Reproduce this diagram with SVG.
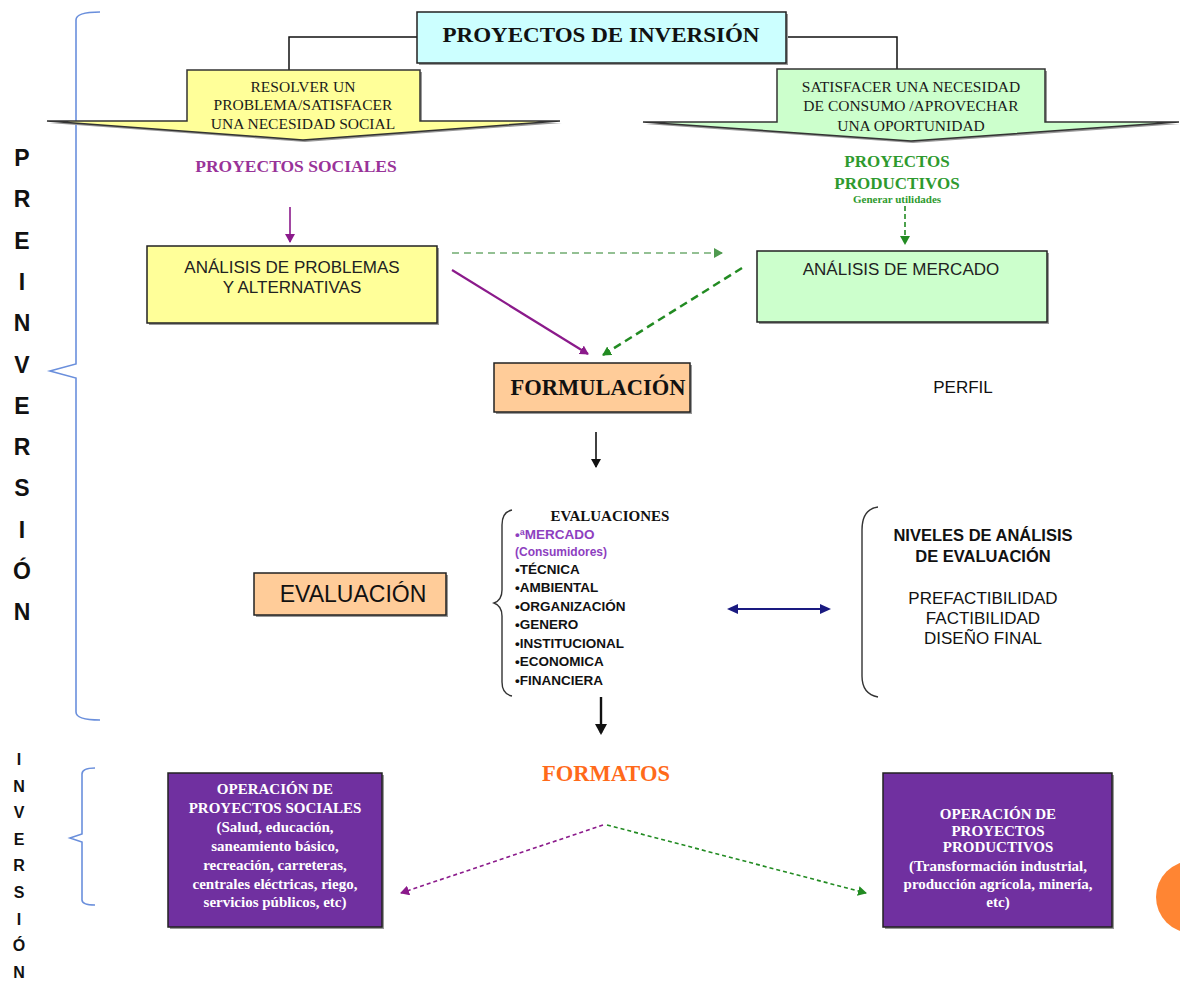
<svg xmlns="http://www.w3.org/2000/svg" width="1180" height="987" viewBox="0 0 1180 987">
<style>
.serif{font-family:"Liberation Serif","Times New Roman",serif}
.sans{font-family:"Liberation Sans",Arial,sans-serif}
.b{font-weight:bold}
.c{text-anchor:middle}
.box{stroke:#222;stroke-width:1.5}
.brace{fill:none;stroke:#6a8fdc;stroke-width:1.6}
.lett{font-family:"Liberation Sans",Arial,sans-serif;font-weight:bold;text-anchor:middle;fill:#111}
.wt{fill:#fff;font-family:"Liberation Serif","Times New Roman",serif;font-weight:bold;font-size:15px;text-anchor:middle}
</style>
<defs>
<marker id="aP" markerWidth="10" markerHeight="10" refX="8" refY="5" orient="auto" markerUnits="userSpaceOnUse"><path d="M0,0 L9,5 L0,10 Z" fill="#8b1a8b"/></marker>
<marker id="aG" markerWidth="10" markerHeight="10" refX="8" refY="5" orient="auto" markerUnits="userSpaceOnUse"><path d="M0,0 L9,5 L0,10 Z" fill="#228b22"/></marker>
<marker id="aLG" markerWidth="10" markerHeight="10" refX="8" refY="5" orient="auto" markerUnits="userSpaceOnUse"><path d="M0,0 L9,5 L0,10 Z" fill="#4f9a4f"/></marker>
<marker id="aK" markerWidth="10" markerHeight="10" refX="8" refY="5" orient="auto" markerUnits="userSpaceOnUse"><path d="M0,0 L9,5 L0,10 Z" fill="#111"/></marker>
<marker id="aKb" markerWidth="12" markerHeight="12" refX="9" refY="6" orient="auto" markerUnits="userSpaceOnUse"><path d="M0,0 L11,6 L0,12 Z" fill="#111"/></marker>
<marker id="aN" markerWidth="12" markerHeight="12" refX="9" refY="6" orient="auto-start-reverse" markerUnits="userSpaceOnUse"><path d="M0,1 L11,6 L0,11 Z" fill="#1a1a80"/></marker>
</defs>
<rect width="1180" height="987" fill="#fff"/>

<g id="preinversion">
<path class="brace" d="M100,12 Q76,12 76,20 V364 L50,371 L76,378 V712 Q76,720 100,720"/>
<g class="lett" font-size="23">
<text x="22" y="166">P</text><text x="22" y="207">R</text><text x="22" y="249">E</text><text x="22" y="290">I</text><text x="22" y="331">N</text><text x="22" y="373">V</text><text x="22" y="414">E</text><text x="22" y="455">R</text><text x="22" y="496">S</text><text x="22" y="538">I</text><text x="22" y="579">Ó</text><text x="22" y="620">N</text>
</g>
</g>
<g id="inversion">
<path class="brace" d="M95,768 Q82,768 82,774 V834 L70,838 L82,842 V900 Q82,905 95,905"/>
<g class="lett" font-size="16">
<text x="19" y="765">I</text><text x="19" y="792">N</text><text x="19" y="818">V</text><text x="19" y="845">E</text><text x="19" y="871">R</text><text x="19" y="898">S</text><text x="19" y="925">I</text><text x="19" y="951">Ó</text><text x="19" y="978">N</text>
</g>
</g>

<g id="connectors" fill="none">
<polyline points="417,37 289,37 289,71" stroke="#111" stroke-width="1.5"/>
<polyline points="786,37 897,37 897,70" stroke="#111" stroke-width="1.5"/>
<line x1="290" y1="207" x2="290" y2="242" stroke="#8b1a8b" stroke-width="1.6" marker-end="url(#aP)"/>
<line x1="905" y1="206" x2="905" y2="244" stroke="#228b22" stroke-width="1.6" stroke-dasharray="5,3" marker-end="url(#aG)"/>
<line x1="452" y1="253" x2="722" y2="253" stroke="#93c093" stroke-width="2" stroke-dasharray="7,5" marker-end="url(#aLG)"/>
<line x1="452" y1="270" x2="588" y2="354" stroke="#8b1a8b" stroke-width="2.2" marker-end="url(#aP)"/>
<line x1="742" y1="268" x2="603" y2="355" stroke="#228b22" stroke-width="2.5" stroke-dasharray="8,5" marker-end="url(#aG)"/>
<line x1="596" y1="432" x2="596" y2="467" stroke="#111" stroke-width="1.6" marker-end="url(#aK)"/>
<line x1="601" y1="697" x2="601" y2="733" stroke="#111" stroke-width="2.4" marker-end="url(#aKb)"/>
<line x1="729" y1="609" x2="829" y2="609" stroke="#1a1a80" stroke-width="2" marker-start="url(#aN)" marker-end="url(#aN)"/>
<line x1="603" y1="825" x2="401" y2="893" stroke="#8b1a8b" stroke-width="1.6" stroke-dasharray="4,3" marker-end="url(#aP)"/>
<line x1="607" y1="825" x2="866" y2="893" stroke="#228b22" stroke-width="1.6" stroke-dasharray="4,3" marker-end="url(#aG)"/>
</g>

<g id="titulo">
<rect x="419" y="14" width="369" height="51" fill="#999"/>
<rect x="417" y="12" width="369" height="51" fill="#ccffff" class="box"/>
<text x="601" y="42" class="serif b c" font-size="21" textLength="317" lengthAdjust="spacingAndGlyphs" fill="#111">PROYECTOS DE INVERSIÓN</text>
</g>

<g id="resolver">
<path d="M189,72 H422 V123 H562 L305,142 L49,123 H189 Z" fill="#999"/>
<path d="M187,70 H420 V121 H560 L303,140 L47,121 H187 Z" fill="#ffff99" stroke="#333" stroke-width="1.5"/>
<g class="serif c" font-size="15.5" fill="#1a1a1a">
<text x="303" y="92">RESOLVER UN</text>
<text x="303" y="110">PROBLEMA/SATISFACER</text>
<text x="303" y="129">UNA NECESIDAD SOCIAL</text>
</g>
</g>

<g id="satisfacer">
<path d="M779,71 H1047 V124 H1181 L913,143 L645,124 H779 Z" fill="#999"/>
<path d="M777,69 H1045 V122 H1179 L911,141 L643,122 H777 Z" fill="#ccffcc" stroke="#333" stroke-width="1.5"/>
<g class="serif c" font-size="15.5" fill="#1a1a1a">
<text x="911" y="92">SATISFACER UNA NECESIDAD</text>
<text x="911" y="111">DE CONSUMO /APROVECHAR</text>
<text x="911" y="131">UNA OPORTUNIDAD</text>
</g>
</g>

<g id="sociales">
<text x="296" y="172" class="serif b c" font-size="17.5" fill="#993399">PROYECTOS SOCIALES</text>
</g>
<g id="productivos" class="serif b c" fill="#2e9a2e">
<text x="897" y="167" font-size="17">PROYECTOS</text>
<text x="897" y="189" font-size="17">PRODUCTIVOS</text>
<text x="897" y="203" font-size="11">Generar utilidades</text>
</g>

<g id="analisis-problemas">
<rect x="149" y="248" width="290" height="77" fill="#999"/>
<rect x="147" y="246" width="290" height="77" fill="#ffff99" class="box"/>
<text x="292" y="273" class="sans c" font-size="17" fill="#222">ANÁLISIS DE PROBLEMAS</text>
<text x="292" y="293" class="sans c" font-size="17" fill="#222">Y ALTERNATIVAS</text>
</g>

<g id="analisis-mercado">
<rect x="759" y="253" width="290" height="71" fill="#999"/>
<rect x="757" y="251" width="290" height="71" fill="#ccffcc" class="box"/>
<text x="901" y="275" class="sans c" font-size="17" fill="#222">ANÁLISIS DE MERCADO</text>
</g>

<g id="formulacion">
<rect x="496" y="365" width="196" height="49" fill="#999"/>
<rect x="494" y="363" width="196" height="49" fill="#ffcc99" class="box"/>
<text x="598" y="395" class="serif b c" font-size="22.5" fill="#111">FORMULACIÓN</text>
</g>

<g id="perfil">
<text x="963" y="393" class="sans c" font-size="17" fill="#111">PERFIL</text>
</g>

<g id="evaluacion">
<rect x="256" y="575" width="192" height="42" fill="#999"/>
<rect x="254" y="573" width="192" height="42" fill="#ffcc99" class="box"/>
<text x="353" y="602" class="sans c" font-size="23" fill="#111">EVALUACIÓN</text>
</g>

<g id="evaluaciones">
<path d="M512,510 Q502,512 502,525 V590 Q502,600 494,603 Q502,606 502,616 V682 Q502,694 512,696" fill="none" stroke="#333" stroke-width="1.4"/>
<text x="610" y="521" class="serif b c" font-size="15" fill="#111">EVALUACIONES</text>
<g class="sans b" font-size="13.5" fill="#111">
<text x="515" y="539" fill="#8e3fbf">•ªMERCADO</text>
<text x="515" y="556" font-size="12" fill="#8e3fbf">(Consumidores)</text>
<text x="515" y="574">•TÉCNICA</text>
<text x="515" y="592">•AMBIENTAL</text>
<text x="515" y="611">•ORGANIZACIÓN</text>
<text x="515" y="629">•GENERO</text>
<text x="515" y="648">•INSTITUCIONAL</text>
<text x="515" y="666">•ECONOMICA</text>
<text x="515" y="685">•FINANCIERA</text>
</g>
</g>

<g id="niveles">
<path d="M878,507 Q862,509 862,530 V676 Q862,694 878,697" fill="none" stroke="#333" stroke-width="1.4"/>
<text x="983" y="541" class="sans b c" font-size="16.5" fill="#111">NIVELES DE ANÁLISIS</text>
<text x="983" y="562" class="sans b c" font-size="16.5" fill="#111">DE EVALUACIÓN</text>
<text x="983" y="604" class="sans c" font-size="17" fill="#111">PREFACTIBILIDAD</text>
<text x="983" y="624" class="sans c" font-size="17" fill="#111">FACTIBILIDAD</text>
<text x="983" y="644" class="sans c" font-size="17" fill="#111">DISEÑO FINAL</text>
</g>

<g id="formatos">
<text x="606" y="781" class="serif b c" font-size="22.5" fill="#ff6a1a">FORMATOS</text>
</g>

<g id="op-sociales">
<rect x="170" y="775" width="214" height="154" fill="#999"/>
<rect x="168" y="773" width="214" height="154" fill="#7030a0" class="box"/>
<text x="275" y="794" class="wt">OPERACIÓN DE</text>
<text x="275" y="813" class="wt">PROYECTOS SOCIALES</text>
<text x="275" y="832" class="wt">(Salud, educación,</text>
<text x="275" y="851" class="wt">saneamiento básico,</text>
<text x="275" y="870" class="wt">recreación, carreteras,</text>
<text x="275" y="889" class="wt">centrales eléctricas, riego,</text>
<text x="275" y="907" class="wt">servicios públicos, etc)</text>
</g>

<g id="op-productivos">
<rect x="885" y="775" width="229" height="154" fill="#999"/>
<rect x="883" y="773" width="229" height="154" fill="#7030a0" class="box"/>
<text x="998" y="819" class="wt">OPERACIÓN DE</text>
<text x="998" y="836" class="wt">PROYECTOS</text>
<text x="998" y="852" class="wt">PRODUCTIVOS</text>
<text x="998" y="871" class="wt">(Transformación industrial,</text>
<text x="998" y="889" class="wt">producción agrícola, minería,</text>
<text x="998" y="907" class="wt">etc)</text>
</g>

<circle cx="1192" cy="897" r="36" fill="#ff8533"/>
</svg>
